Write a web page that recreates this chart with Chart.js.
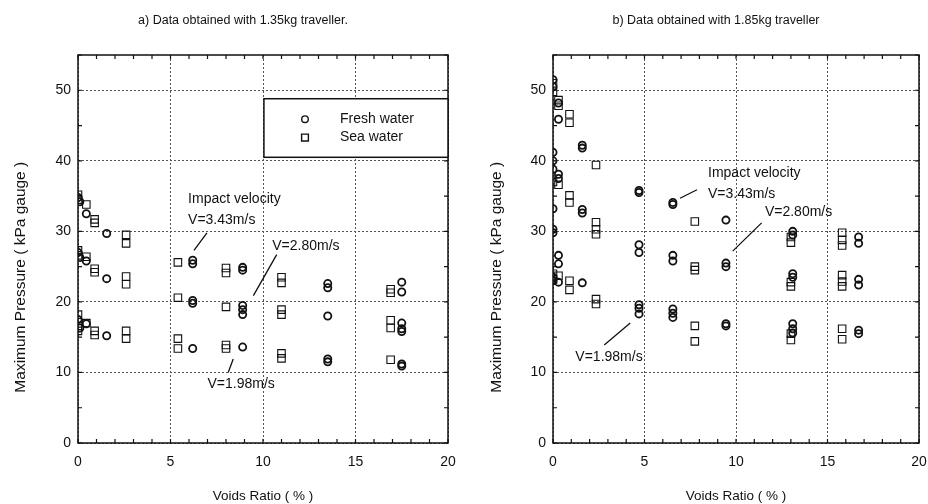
<!DOCTYPE html>
<html>
<head>
<meta charset="utf-8">
<script src="https://cdn.jsdelivr.net/npm/chart.js@4.4.0/dist/chart.umd.min.js"></script>
<style>
body { margin: 0; background: #fff; }
#wrap { position: relative; width: 928px; height: 504px; }
.box { position: absolute; top: 0; width: 464px; height: 504px; }
</style>
</head>
<body>
<div id="wrap">
  <div class="box" style="left:0"><canvas id="chartA" width="464" height="504"></canvas></div>
  <div class="box" style="left:464px"><canvas id="chartB" width="464" height="504"></canvas></div>
</div>
<script>
// values: [voids ratio %, max pressure kPa]
var voidsTicks = [0, 5, 10, 15, 20];
var pressureTicks = [0, 10, 20, 30, 40, 50];

var freshA = [
  [0, 34.8], [0.1, 34.2], [0.45, 32.5], [1.55, 29.7],
  [0, 27.0], [0.1, 26.3], [0.45, 25.8], [1.55, 23.3],
  [0, 17.5], [0.1, 16.3], [0.45, 16.9], [1.55, 15.2],
  [6.2, 25.9], [6.2, 25.4], [6.2, 20.2], [6.2, 19.8], [6.2, 13.4],
  [8.9, 24.9], [8.9, 24.5], [8.9, 19.5], [8.9, 18.9], [8.9, 18.2], [8.9, 13.6],
  [13.5, 22.6], [13.5, 22.0], [13.5, 18.0], [13.5, 11.9], [13.5, 11.5],
  [17.5, 22.8], [17.5, 21.4], [17.5, 17.0], [17.5, 16.2], [17.5, 15.8], [17.5, 11.2], [17.5, 10.9]
];
var seaA = [
  [0, 35.2], [0, 34.5], [0, 27.3], [0, 26.6], [0, 18.2], [0, 16.6], [0, 15.9],
  [0.45, 33.8], [0.45, 26.4], [0.45, 17.0],
  [0.9, 31.7], [0.9, 31.2], [0.9, 24.7], [0.9, 24.2], [0.9, 15.9], [0.9, 15.3],
  [2.6, 29.5], [2.6, 28.3], [2.6, 23.6], [2.6, 22.5], [2.6, 15.9], [2.6, 14.8],
  [5.4, 25.6], [5.4, 20.6], [5.4, 14.8], [5.4, 13.4],
  [8.0, 24.8], [8.0, 24.1], [8.0, 19.3], [8.0, 13.9], [8.0, 13.4],
  [11.0, 23.5], [11.0, 22.7], [11.0, 18.9], [11.0, 18.2], [11.0, 12.7], [11.0, 12.0],
  [16.9, 21.8], [16.9, 21.3], [16.9, 17.4], [16.9, 16.3], [16.9, 11.8]
];
var freshB = [
  [0, 51.5], [0, 50.5], [0, 41.2], [0, 40.0], [0, 38.8], [0, 33.2], [0, 30.3], [0, 29.8], [0, 23.5], [0, 23.0],
  [0.3, 48.2], [0.3, 45.9], [0.3, 38.1], [0.3, 37.5], [0.3, 26.6], [0.3, 25.4], [0.3, 22.8],
  [1.6, 42.2], [1.6, 41.8], [1.6, 33.1], [1.6, 32.6], [1.6, 22.7],
  [4.7, 35.8], [4.7, 35.5], [4.7, 28.1], [4.7, 27.0], [4.7, 19.6], [4.7, 19.1], [4.7, 18.3],
  [6.55, 34.1], [6.55, 33.8], [6.55, 26.6], [6.55, 25.8], [6.55, 19.0], [6.55, 18.4], [6.55, 17.8],
  [9.45, 31.6], [9.45, 25.5], [9.45, 25.0], [9.45, 16.9], [9.45, 16.6],
  [13.1, 30.0], [13.1, 29.5], [13.1, 24.0], [13.1, 23.5], [13.1, 16.9], [13.1, 16.2], [13.1, 15.6],
  [16.7, 29.2], [16.7, 28.3], [16.7, 23.2], [16.7, 22.4], [16.7, 16.0], [16.7, 15.5]
];
var seaB = [
  [0, 51.0], [0, 49.8], [0, 37.0], [0, 24.0], [0, 23.2],
  [0.3, 48.6], [0.3, 47.8], [0.3, 36.6], [0.3, 23.7],
  [0.9, 46.6], [0.9, 45.4], [0.9, 35.1], [0.9, 34.1], [0.9, 23.0], [0.9, 21.7],
  [2.35, 39.4], [2.35, 31.3], [2.35, 30.3], [2.35, 29.6], [2.35, 20.4], [2.35, 19.7],
  [7.75, 31.4], [7.75, 25.0], [7.75, 24.5], [7.75, 16.6], [7.75, 14.4],
  [13.0, 29.2], [13.0, 28.4], [13.0, 22.8], [13.0, 22.2], [13.0, 15.5], [13.0, 14.6],
  [15.8, 29.8], [15.8, 28.8], [15.8, 28.0], [15.8, 23.8], [15.8, 22.9], [15.8, 22.2], [15.8, 16.2], [15.8, 14.7]
];

var FONT = "'Liberation Sans', Arial, sans-serif";

// labels and leader lines, in data units
var notesA = [
  {text: 'Impact velocity', x: 5.95, y: 34.5},
  {text: 'V=3.43m/s', x: 5.95, y: 31.6},
  {text: 'V=2.80m/s', x: 10.5, y: 27.9},
  {text: 'V=1.98m/s', x: 7.0, y: 8.3}
];
var leadersA = [[6.97, 29.8, 6.27, 27.3], [10.74, 26.7, 9.48, 20.9], [8.39, 11.9, 8.12, 10.0]];
var notesB = [
  {text: 'Impact velocity', x: 8.47, y: 38.3},
  {text: 'V=3.43m/s', x: 8.47, y: 35.3},
  {text: 'V=2.80m/s', x: 11.58, y: 32.7},
  {text: 'V=1.98m/s', x: 1.22, y: 12.2}
];
var leadersB = [[6.94, 34.7, 7.87, 35.9], [11.4, 31.2, 9.82, 27.2], [4.22, 17.0, 2.8, 13.9]];

function toPoints(arr) {
  return arr.map(function(p) { return {x: p[0], y: p[1]}; });
}

var paperFrame = {
  id: 'paperFrame',
  afterDraw: function(chart, args, opts) {
    var ctx = chart.ctx;
    var a = chart.chartArea;
    var sx = chart.scales.x, sy = chart.scales.y;
    ctx.save();
    ctx.strokeStyle = '#111';
    ctx.lineWidth = 1.5;
    ctx.setLineDash([]);
    ctx.strokeRect(a.left, a.top, a.right - a.left, a.bottom - a.top);
    // inward minor ticks
    ctx.lineWidth = 1.2;
    ctx.beginPath();
    for (var v = 0; v <= 20; v++) {
      var px = sx.getPixelForValue(v);
      ctx.moveTo(px, a.bottom); ctx.lineTo(px, a.bottom - 4);
      ctx.moveTo(px, a.top); ctx.lineTo(px, a.top + 4);
    }
    for (var w = 0; w <= 55; w += 5) {
      var py = sy.getPixelForValue(w);
      ctx.moveTo(a.left, py); ctx.lineTo(a.left + 4, py);
      ctx.moveTo(a.right, py); ctx.lineTo(a.right - 4, py);
    }
    ctx.stroke();

    ctx.fillStyle = '#111';
    ctx.textBaseline = 'middle';
    // panel title
    ctx.font = '12.5px ' + FONT;
    ctx.textAlign = 'center';
    ctx.fillText(opts.title, (a.left + a.right) / 2 + opts.titleShift, 21);

    // y axis title, rotated
    ctx.save();
    ctx.translate(opts.yTitleX, sy.getPixelForValue(opts.yTitleAt));
    ctx.rotate(-Math.PI / 2);
    ctx.font = '15.5px ' + FONT;
    ctx.fillText('Maximum Pressure ( kPa gauge )', 0, 0);
    ctx.restore();

    // annotations
    ctx.font = '14px ' + FONT;
    ctx.textAlign = 'left';
    opts.notes.forEach(function(n) {
      ctx.fillText(n.text, sx.getPixelForValue(n.x), sy.getPixelForValue(n.y));
    });
    ctx.lineWidth = 1.3;
    ctx.beginPath();
    opts.leaders.forEach(function(l) {
      ctx.moveTo(sx.getPixelForValue(l[0]), sy.getPixelForValue(l[1]));
      ctx.lineTo(sx.getPixelForValue(l[2]), sy.getPixelForValue(l[3]));
    });
    ctx.stroke();

    // boxed legend
    if (opts.legend) {
      var b = opts.legend;
      var x0 = sx.getPixelForValue(b.x0), x1 = sx.getPixelForValue(b.x1);
      var y0 = sy.getPixelForValue(b.y0), y1 = sy.getPixelForValue(b.y1);
      ctx.fillStyle = '#fff';
      ctx.fillRect(x0, y0, x1 - x0, y1 - y0);
      ctx.strokeStyle = '#111';
      ctx.lineWidth = 1.5;
      ctx.strokeRect(x0, y0, x1 - x0, y1 - y0);
      chart.data.datasets.forEach(function(ds, i) {
        var yy = sy.getPixelForValue(b.rows[i]);
        var mx = sx.getPixelForValue(b.mark);
        ctx.fillStyle = '#fff';
        ctx.strokeStyle = '#111';
        ctx.lineWidth = 1.4;
        Chart.helpers.drawPoint(ctx, {
          pointStyle: ds.pointStyle, radius: ds.pointStyle === 'rect' ? 4.8 : 3.3,
          borderWidth: 1.4, rotation: 0
        }, mx, yy);
        ctx.fillStyle = '#111';
        ctx.fillText(ds.label, sx.getPixelForValue(b.text), yy);
      });
    }
    ctx.restore();
  }
};

function makeChart(id, fresh, sea, frameOpts, padLeft, padRight, yWidth) {
  return new Chart(document.getElementById(id), {
    type: 'scatter',
    data: {
      datasets: [
        {label: 'Fresh water', data: toPoints(fresh), pointStyle: 'circle', pointRadius: 3.6,
         borderColor: '#111', backgroundColor: 'rgba(0,0,0,0)', pointBorderWidth: 1.8},
        {label: 'Sea water', data: toPoints(sea), pointStyle: 'rect', pointRadius: 5.3,
         borderColor: '#111', backgroundColor: 'rgba(0,0,0,0)', pointBorderWidth: 1.1}
      ]
    },
    options: {
      responsive: false,
      animation: false,
      events: [],
      layout: {padding: {left: padLeft, right: padRight, top: 55, bottom: 0}},
      plugins: {
        legend: {display: false},
        tooltip: {enabled: false},
        paperFrame: frameOpts
      },
      scales: {
        x: {
          type: 'linear', min: 0, max: 20,
          afterBuildTicks: function(s) { s.ticks = voidsTicks.map(function(v) { return {value: v}; }); },
          afterFit: function(s) { s.height = 61; s.paddingLeft = 0; s.paddingRight = 0; },
          grid: {color: '#555', lineWidth: 1, drawTicks: false},
          border: {display: false, dash: [2, 2]},
          ticks: {color: '#111', padding: 11, font: {family: FONT, size: 14}},
          title: {display: true, text: 'Voids Ratio ( % )', color: '#111', padding: {top: 0, bottom: 0},
                  font: {family: FONT, size: 13.5}}
        },
        y: {
          type: 'linear', min: 0, max: 55,
          afterBuildTicks: function(s) { s.ticks = pressureTicks.map(function(v) { return {value: v}; }); },
          afterFit: function(s) { s.width = yWidth; s.paddingTop = 0; s.paddingBottom = 0; },
          grid: {color: '#555', lineWidth: 1, drawTicks: false},
          border: {display: false, dash: [2, 2]},
          ticks: {color: '#111', padding: 7, font: {family: FONT, size: 14}}
        }
      }
    },
    plugins: [paperFrame]
  });
}

makeChart('chartA', freshA, seaA, {
  title: 'a) Data obtained with 1.35kg traveller.', titleShift: -20,
  yTitleX: 21, yTitleAt: 23.5,
  notes: notesA, leaders: leadersA,
  legend: {x0: 10.05, x1: 20, y0: 48.8, y1: 40.5, mark: 12.27, text: 14.16, rows: [45.9, 43.3]}
}, 0, 16, 78);

makeChart('chartB', freshB, seaB, {
  title: 'b) Data obtained with 1.85kg traveller', titleShift: -20,
  yTitleX: 33, yTitleAt: 23.5,
  notes: notesB, leaders: leadersB, legend: null
}, 0, 9, 89);
</script>
</body>
</html>
